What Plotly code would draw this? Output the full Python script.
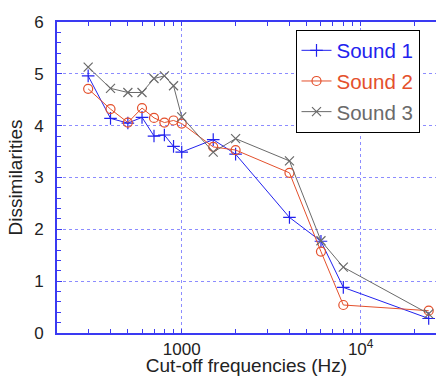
import plotly.graph_objects as go

freqs = [300, 400, 500, 600, 700, 800, 900, 1000, 1500, 2000, 4000, 6000, 8000, 24000]
sound1 = [4.96, 4.14, 4.05, 4.16, 3.80, 3.82, 3.60, 3.49, 3.73, 3.45, 2.23, 1.77, 0.88, 0.28]
sound2 = [4.71, 4.32, 4.06, 4.34, 4.15, 4.06, 4.10, 4.04, 3.59, 3.53, 3.09, 1.57, 0.54, 0.43]
sound3 = [5.13, 4.72, 4.64, 4.64, 4.91, 4.96, 4.77, 4.17, 3.49, 3.75, 3.32, 1.78, 1.27, 0.37]
names = ["Sound 1", "Sound 2", "Sound 3"]
colors = ["#2222ee", "#e4502c", "#6a6a6a"]
symbols = ["cross-thin-open", "circle-open", "x-thin-open"]

x_tickvals = [1000, 10000]
x_ticktext = ["1000", "10<sup>4</sup>"]
x_minor = [200, 300, 400, 500, 600, 700, 800, 900, 2000, 3000, 4000, 5000,
           6000, 7000, 8000, 9000, 20000]

FONT = "Liberation Sans, Arial, sans-serif"
AXC = "#3a3af2"
GRIDC = "#8c8cff"

fig = go.Figure()
for i, (nm, ys) in enumerate(zip(names, [sound1, sound2, sound3])):
    fig.add_trace(go.Scatter(
        x=freqs, y=ys, mode="lines+markers",
        name=f"<span style='color:{colors[i]}'>{nm}</span>",
        legendgroup=f"g{i}",
        line=dict(color=colors[i], width=1),
        marker=dict(symbol=symbols[i], size=9, color=colors[i],
                    line=dict(color=colors[i], width=1.2)),
    ))

# legend drop shadow
fig.add_shape(type="rect", xref="paper", yref="paper",
              x0=(299 - 57) / 379, x1=(415 - 57) / 379,
              y0=(333 - 131.5) / 311, y1=(333 - 33) / 311,
              fillcolor="black", line=dict(width=0), layer="above")

fig.update_layout(
    width=436, height=376,
    margin=dict(l=57, r=0, t=22, b=43),
    paper_bgcolor="white", plot_bgcolor="white",
    font=dict(family=FONT, size=17, color="#222222"),
    showlegend=True,
    legend=dict(x=(295.5 - 57) / 379, y=(333 - 29.5) / 311,
                xanchor="left", yanchor="top",
                bgcolor="white", bordercolor="black", borderwidth=1,
                font=dict(family=FONT, size=20.5),
                tracegroupgap=1, traceorder="grouped"),
    xaxis=dict(
        type="log", range=[2.303, 4.421],
        tickvals=x_tickvals, ticktext=x_ticktext,
        ticks="inside", ticklen=4, tickcolor=AXC, tickwidth=1,
        showline=True, linecolor=AXC, linewidth=2, mirror="ticks",
        showgrid=True, gridcolor=GRIDC, gridwidth=1, griddash="dot",
        minor=dict(tickvals=x_minor, ticks="inside", ticklen=4,
                   tickcolor=AXC, showgrid=False),
        zeroline=False, ticklabelstandoff=0,
        title=dict(text="Cut-off frequencies (Hz)", font=dict(size=19), standoff=4),
    ),
    yaxis=dict(
        range=[0, 6], dtick=1, tick0=0,
        ticks="inside", ticklen=5, tickcolor=AXC, tickwidth=1,
        showline=True, linecolor=AXC, linewidth=2,
        showgrid=True, gridcolor=GRIDC, gridwidth=1, griddash="dot",
        minor=dict(dtick=0.2, ticks="inside", ticklen=4, tickcolor=AXC, showgrid=False),
        zeroline=False, ticklabelstandoff=8,
        title=dict(text="Dissimilarities", font=dict(size=19), standoff=6),
    ),
)

fig.write_html("out.html")
